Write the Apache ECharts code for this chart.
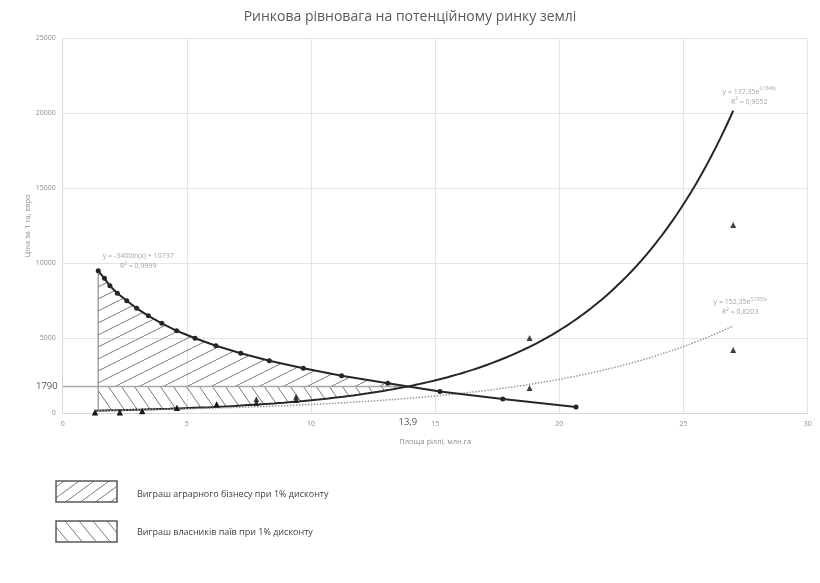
<!DOCTYPE html>
<html>
<head>
<meta charset="utf-8">
<script src="https://cdn.jsdelivr.net/npm/echarts@6/dist/echarts.min.js"></script>
<style>
html,body{margin:0;padding:0;background:#fff;}
#main{width:820px;height:583px;}
</style>
</head>
<body>
<div id="main"></div>
<script>
// дані
var demandX = [1.43,1.68,1.90,2.20,2.58,2.98,3.45,3.99,4.59,5.33,6.17,7.17,8.32,9.69,11.23,13.09,15.19,17.72,20.67];
var demandY = [9500,9000,8500,8000,7500,7000,6500,6000,5500,5000,4500,4000,3500,3000,2500,2000,1450,950,420];
var supplyX = [1.3,2.3,3.2,4.6,6.2,7.8,9.4,18.8,27];
var supplyHigh = [70,70,150,370,600,930,1110,5020,12550];
var supplyLow = [60,60,140,360,590,710,890,1690,4220];
// лінії тренду y = a*e^(b*x)
var trendHigh = [137.35, 0.1848];
var trendLow = [152.35, 0.1350];
var eqPrice = 1790;
var eqArea = 13.9;
var xTicks = [0, 30, 5];
var yTicks = [0, 25000, 5000];
var legendNames = ['Виграш аграрного бізнесу при 1% дисконту', 'Виграш власників паїв при 1% дисконту'];

function pairs(xs, ys) {
    return xs.map(function(x, i){ return [x, ys[i]]; });
}
function trendLine(t, x0, x1) {
    var out = [];
    for (var x = x0; x < x1; x += 0.2) out.push([x, t[0] * Math.exp(t[1] * x)]);
    out.push([x1, t[0] * Math.exp(t[1] * x1)]);
    return out;
}
// штрихування
function hatch(w, h, dir) {
    var c = document.createElement('canvas');
    c.width = w; c.height = h;
    var g = c.getContext('2d');
    g.strokeStyle = '#7a7a7a';
    g.lineWidth = 1;
    g.beginPath();
    for (var k = -1; k <= 1; k++) {
        if (dir > 0) { g.moveTo(k * w, h); g.lineTo(k * w + w, 0); }
        else { g.moveTo(k * w, 0); g.lineTo(k * w + w, h); }
    }
    g.stroke();
    return {image: c, repeat: 'repeat'};
}

var left0 = demandX[0];
var highLine = trendLine(trendHigh, supplyX[0], supplyX[supplyX.length - 1]);
var lowLine = trendLine(trendLow, supplyX[0], supplyX[supplyX.length - 1]);

// область 1: між попитом і 1790
var region1 = [[left0, eqPrice], [left0, demandY[0]]];
demandX.forEach(function(x, i){ if (x < eqArea) region1.push([x, demandY[i]]); });
region1.push([eqArea, eqPrice]);
// область 2: між 1790 і пропозицією
var region2 = [[left0, eqPrice], [eqArea, eqPrice]];
var back = trendLine(trendHigh, left0, eqArea).reverse();
region2 = region2.concat(back);

var regions = [region1, region2];
var fills = [hatch(24, 12, 1), hatch(13, 19, -1)];

var chart = echarts.init(document.getElementById('main'));
var grey = '#8c8c8c';
var font = 'Open Sans';
var eqRich = {a: {fontSize: 7, color: grey}, s: {fontSize: 4.5, color: grey, verticalAlign: 'top'}};

var option = {
    animation: false,
    backgroundColor: '#fff',
    textStyle: {fontFamily: font},
    title: {
        text: 'Ринкова рівновага на потенційному ринку землі',
        left: 'center',
        top: 5,
        textStyle: {fontSize: 14, fontWeight: 'normal', color: '#595959', fontFamily: font}
    },
    grid: {left: 62.7, right: 12.3, top: 38.3, bottom: 169.7},
    xAxis: {
        type: 'value', min: xTicks[0], max: xTicks[1], interval: xTicks[2],
        name: 'Площа ріллі, млн.га', nameLocation: 'middle', nameGap: 25, nameMoveOverlap: false,
        nameTextStyle: {fontSize: 7.5, color: grey},
        axisLine: {show: true, lineStyle: {color: '#d9d9d9'}},
        axisTick: {show: false},
        axisLabel: {fontSize: 7, color: grey, margin: 7},
        splitLine: {show: true, lineStyle: {color: '#e3e3e3'}}
    },
    yAxis: {
        type: 'value', min: yTicks[0], max: yTicks[1], interval: yTicks[2],
        name: 'Ціна за 1 га, євро', nameLocation: 'middle', nameGap: 31, nameRotate: 90, nameMoveOverlap: false,
        nameTextStyle: {fontSize: 7.5, color: grey},
        axisLine: {show: true, lineStyle: {color: '#d9d9d9'}},
        axisTick: {show: false},
        axisLabel: {fontSize: 7, color: grey, margin: 7, formatter: function(v){ return String(v); }},
        splitLine: {show: true, lineStyle: {color: '#e3e3e3'}}
    },
    graphic: [
        {type: 'rect', shape: {x: 56, y: 481, width: 61, height: 21}, style: {fill: hatch(15, 11, 1), stroke: '#595959', lineWidth: 1.5}},
        {type: 'text', x: 137, y: 494, style: {text: legendNames[0], fontSize: 9, fill: '#404040', fontFamily: font, verticalAlign: 'middle'}},
        {type: 'rect', shape: {x: 56, y: 521, width: 61, height: 21}, style: {fill: hatch(14, 17, -1), stroke: '#595959', lineWidth: 1.5}},
        {type: 'text', x: 137, y: 532, style: {text: legendNames[1], fontSize: 9, fill: '#404040', fontFamily: font, verticalAlign: 'middle'}}
    ],
    series: [
        {
            type: 'custom',
            data: [[0], [1]],
            z: 1,
            renderItem: function(params, api) {
                var pts = regions[params.dataIndex].map(function(p){ return api.coord(p); });
                return {type: 'polygon', shape: {points: pts}, style: {fill: fills[params.dataIndex], stroke: null}};
            }
        },
        {   // рівноважна ціна
            type: 'line', data: [[0, eqPrice], [eqArea, eqPrice]],
            symbol: 'none', z: 2,
            lineStyle: {color: '#a6a6a6', width: 1.5}
        },
        {   // ліва межа
            type: 'line', data: [[left0, 150], [left0, demandY[0]]],
            symbol: 'none', z: 2,
            lineStyle: {color: '#8c8c8c', width: 1.2}
        },
        {
            type: 'line', data: highLine, symbol: 'none', z: 3,
            lineStyle: {color: '#262626', width: 2}
        },
        {
            type: 'line', data: lowLine, symbol: 'none', z: 3,
            lineStyle: {color: '#999', width: 1.5, type: 'dotted'}
        },
        {
            type: 'line', data: pairs(demandX, demandY), z: 4,
            symbol: 'circle', symbolSize: 5,
            itemStyle: {color: '#262626'},
            lineStyle: {color: '#262626', width: 2}
        },
        {
            type: 'scatter', data: pairs(supplyX, supplyHigh), z: 5,
            symbol: 'triangle', symbolSize: 6, itemStyle: {color: '#111'}
        },
        {
            type: 'scatter', data: pairs(supplyX, supplyLow), z: 5,
            symbol: 'triangle', symbolSize: 6, itemStyle: {color: '#111'}
        },
        {   // підписи
            type: 'scatter', symbolSize: 0, z: 6, silent: true,
            data: [
                {value: [0, eqPrice], label: {show: true, position: 'left', distance: 5, formatter: '1790', fontSize: 9.5, color: '#262626'}},
                {value: [eqArea, 0], label: {show: true, position: 'bottom', distance: 4, formatter: '13,9', fontSize: 9.5, color: '#262626'}},
                {value: [demandX[0], demandY[0]], label: {show: true, position: 'top', distance: 5, offset: [40, 5], lineHeight: 10,
                    formatter: '{a|y = -3400ln(x) + 10737}\n{a|R}{s|2}{a| = 0,9999}', color: grey, rich: eqRich}},
                {value: highLine[highLine.length - 1], label: {show: true, position: 'top', distance: 5, offset: [16, 1], lineHeight: 10,
                    formatter: '{a|y = 137,35e}{s|0,1848x}\n{a|R}{s|2}{a| = 0,9052}', color: grey, rich: eqRich}},
                {value: lowLine[lowLine.length - 1], label: {show: true, position: 'top', distance: 5, offset: [7, -4], lineHeight: 10,
                    formatter: '{a|y = 152,35e}{s|0,1350x}\n{a|R}{s|2}{a| = 0,8203}', color: grey, rich: eqRich}}
            ]
        }
    ]
};
chart.setOption(option);
</script>
</body>
</html>
